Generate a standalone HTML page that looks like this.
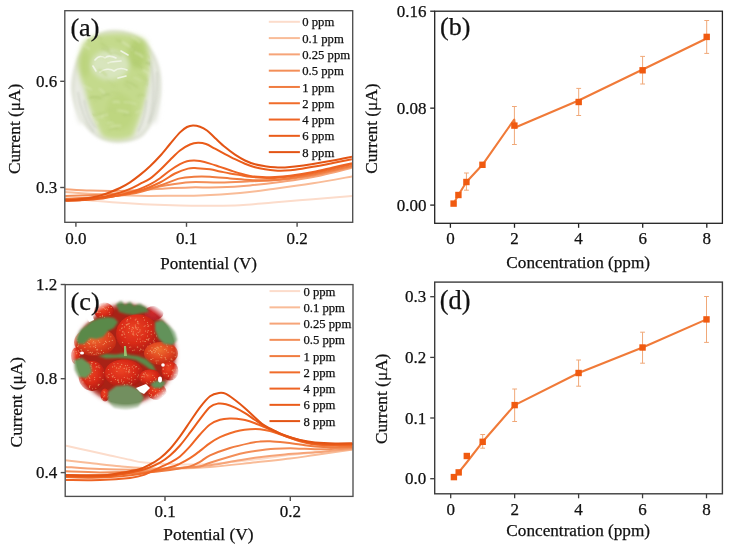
<!DOCTYPE html><html><head><meta charset="utf-8"><style>html,body{margin:0;padding:0;background:#fff;}svg{display:block;will-change:transform;}text{font-family:"Liberation Serif", serif;fill:#111;stroke:#111;stroke-width:0.25px;}</style></head><body>
<svg width="729" height="550" viewBox="0 0 729 550">
<defs>
<clipPath id="lettClip"><path d="M84,42 C94,32 128,29 145,40 C152,50 151,70 148,86 C145,104 139,122 133,136 C125,141 110,141 102,136 C94,120 88,104 84,90 C78,74 77,54 84,42 Z"/></clipPath>
<clipPath id="clipA"><rect x="65.3" y="11.3" width="286.6" height="210.3"/></clipPath>
<clipPath id="clipC"><rect x="65.8" y="285.3" width="286.6" height="210.3"/></clipPath>
<filter id="blurEdge" x="-20%" y="-20%" width="140%" height="140%"><feGaussianBlur stdDeviation="2.5"/></filter>
<filter id="blur2" x="-20%" y="-20%" width="140%" height="140%"><feGaussianBlur stdDeviation="2.2"/></filter>
<filter id="blur15" x="-20%" y="-20%" width="140%" height="140%"><feGaussianBlur stdDeviation="1.5"/></filter>
<filter id="blur25" x="-20%" y="-20%" width="140%" height="140%"><feGaussianBlur stdDeviation="2.6"/></filter>
<filter id="blur05" x="-20%" y="-20%" width="140%" height="140%"><feGaussianBlur stdDeviation="0.5"/></filter>
<filter id="blur06" x="-20%" y="-20%" width="140%" height="140%"><feGaussianBlur stdDeviation="0.55"/></filter>
<filter id="blur1" x="-20%" y="-20%" width="140%" height="140%"><feGaussianBlur stdDeviation="1.2"/></filter>
<radialGradient id="strawGrad" cx="125.6" cy="354" r="57" gradientUnits="userSpaceOnUse">
  <stop offset="0" stop-color="#fff" stop-opacity="1"/>
  <stop offset="0.87" stop-color="#fff" stop-opacity="1"/>
  <stop offset="1" stop-color="#fff" stop-opacity="0"/>
</radialGradient>
<radialGradient id="sRed" cx="0.42" cy="0.38" r="0.65">
  <stop offset="0" stop-color="#ec4424"/><stop offset="0.55" stop-color="#d82a18"/><stop offset="1" stop-color="#a81a10"/>
</radialGradient>
<radialGradient id="sOrange" cx="0.45" cy="0.35" r="0.65">
  <stop offset="0" stop-color="#ee7030"/><stop offset="0.55" stop-color="#e04420"/><stop offset="1" stop-color="#bc2614"/>
</radialGradient>
<radialGradient id="sDark" cx="0.45" cy="0.45" r="0.6">
  <stop offset="0" stop-color="#d02a2a"/><stop offset="1" stop-color="#b02028"/>
</radialGradient>
<filter id="blur08" x="-20%" y="-20%" width="140%" height="140%"><feGaussianBlur stdDeviation="0.8"/></filter>
<mask id="strawMask"><circle cx="125.6" cy="354" r="57" fill="url(#strawGrad)"/></mask>
</defs>
<rect width="729" height="550" fill="#fff"/>

<g filter="url(#blur15)">
  <path d="M112,30 C136,29 158,46 161,76 C163,98 157,122 143,136 C133,144 110,145 98,138 C82,128 72,108 71,88 C71,60 88,31 112,30 Z" fill="#dfe2d6"/>
  <path d="M112,33 C134,32 154,48 157,76 C159,98 154,120 141,133 C131,140 111,141 100,135 C85,126 75,108 75,88 C75,62 90,34 112,33 Z" fill="#e8eae2"/>
</g>
<g filter="url(#blur25)">
  <path d="M84,42 C94,32 128,29 145,40 C152,50 151,70 148,86 C145,104 139,122 133,136 C125,141 110,141 102,136 C94,120 88,104 84,90 C78,74 77,54 84,42 Z" fill="#c4da8c"/>
  <ellipse cx="137" cy="54" rx="9" ry="15" fill="#b6d074"/>
  <ellipse cx="120" cy="112" rx="14" ry="18" fill="#bed680"/>
  <ellipse cx="84" cy="64" rx="6" ry="14" fill="#bcd47e"/>
  <ellipse cx="110" cy="65" rx="19" ry="15" fill="#d8e5bd"/>
  <ellipse cx="154" cy="98" rx="5" ry="26" fill="#e6e8e0"/>
  <ellipse cx="81" cy="104" rx="5" ry="20" fill="#e8eae2"/>
</g>
<g fill="none" stroke="#f2f6ea" stroke-width="1.6" stroke-linecap="round" stroke-linejoin="round" filter="url(#blur05)" opacity="0.9">
  <path d="M95,60 C98,56 102,56 105,58 C108,55 112,56 116,58"/><path d="M100,72 C104,69 110,68 114,71 C118,68 123,68 127,70"/><path d="M108,63 C112,61 116,62 121,61"/><path d="M93,66 L96,71"/><path d="M121,51 L128,55"/><path d="M118,78 L126,76"/>
</g>
<g stroke="#c8ccbf" stroke-width="1.8" fill="none" opacity="0.6" filter="url(#blur1)">
  <path d="M150,60 C155,80 155,104 148,124"/><path d="M157,72 C158,92 156,108 150,122"/><path d="M146,100 C146,112 142,124 138,132"/><path d="M78,92 C80,108 86,122 94,132"/><path d="M84,100 C86,112 90,122 96,128"/>
</g>

<g clip-path="url(#lettClip)" fill="none" stroke-linecap="round" opacity="0.5" filter="url(#blur08)"><path d="M111.7,92.2 q4.0,-0.3 8.1,1.7" stroke="#bcd380" stroke-width="2.43"/><path d="M93.3,117.6 q4.6,-1.3 9.3,-0.1" stroke="#d8e7b2" stroke-width="1.51"/><path d="M101.2,43.4 q3.9,1.9 7.7,6.1" stroke="#b2ca74" stroke-width="2.11"/><path d="M107.7,81.1 q3.8,1.7 7.6,5.7" stroke="#bcd380" stroke-width="1.42"/><path d="M117.0,40.2 q3.0,0.2 6.1,2.8" stroke="#b2ca74" stroke-width="2.33"/><path d="M102.8,95.5 q3.3,-1.7 6.6,-1.0" stroke="#a8c26a" stroke-width="2.00"/><path d="M126.4,81.6 q5.4,1.5 10.7,5.3" stroke="#b2ca74" stroke-width="2.25"/><path d="M102.1,57.9 q2.5,0.0 4.9,2.5" stroke="#b2ca74" stroke-width="1.88"/><path d="M139.3,74.2 q4.1,2.5 8.1,7.3" stroke="#b2ca74" stroke-width="1.66"/><path d="M144.9,39.4 q4.4,1.2 8.7,4.8" stroke="#dfeabf" stroke-width="1.49"/><path d="M124.1,115.0 q2.8,-1.5 5.6,-0.6" stroke="#a8c26a" stroke-width="1.42"/><path d="M108.7,130.0 q4.9,-2.1 9.8,-1.8" stroke="#b2ca74" stroke-width="1.47"/><path d="M135.8,52.5 q3.4,1.0 6.8,4.4" stroke="#d8e7b2" stroke-width="2.58"/><path d="M133.9,77.6 q3.4,0.7 6.8,3.7" stroke="#d8e7b2" stroke-width="1.40"/><path d="M140.5,135.4 q6.0,-0.9 12.0,0.6" stroke="#b2ca74" stroke-width="1.65"/><path d="M107.6,122.9 q2.8,-1.0 5.7,0.4" stroke="#d8e7b2" stroke-width="1.66"/><path d="M98.1,114.4 q3.5,-1.5 7.0,-0.6" stroke="#b2ca74" stroke-width="1.49"/><path d="M94.6,100.2 q3.7,-2.1 7.4,-1.8" stroke="#bcd380" stroke-width="1.94"/><path d="M147.1,84.3 q4.6,1.8 9.3,6.1" stroke="#d8e7b2" stroke-width="2.15"/><path d="M101.8,57.8 q4.2,1.6 8.4,5.6" stroke="#d8e7b2" stroke-width="2.29"/><path d="M145.8,54.4 q4.2,2.5 8.3,7.5" stroke="#bcd380" stroke-width="1.49"/><path d="M83.3,45.3 q2.9,0.6 5.8,3.6" stroke="#dfeabf" stroke-width="1.71"/><path d="M137.7,96.0 q3.1,-1.5 6.2,-0.6" stroke="#b2ca74" stroke-width="1.55"/><path d="M113.6,102.0 q2.8,-1.0 5.5,0.3" stroke="#d8e7b2" stroke-width="2.50"/><path d="M94.3,35.7 q3.6,0.6 7.3,3.6" stroke="#b2ca74" stroke-width="1.46"/><path d="M99.7,89.2 q2.1,0.7 4.2,3.8" stroke="#d8e7b2" stroke-width="2.47"/><path d="M148.6,102.3 q4.5,-0.8 9.0,0.9" stroke="#d8e7b2" stroke-width="2.11"/><path d="M144.7,83.4 q3.2,0.5 6.3,3.4" stroke="#b2ca74" stroke-width="1.43"/><path d="M124.5,84.2 q2.9,1.0 5.8,4.3" stroke="#b2ca74" stroke-width="1.49"/><path d="M118.2,110.6 q5.0,-0.2 10.0,2.0" stroke="#d8e7b2" stroke-width="2.35"/><path d="M144.1,70.6 q4.6,2.1 9.2,6.6" stroke="#dfeabf" stroke-width="2.53"/><path d="M82.1,86.0 q4.5,0.5 9.0,3.4" stroke="#dfeabf" stroke-width="2.10"/><path d="M122.6,42.3 q4.9,2.2 9.8,6.8" stroke="#dfeabf" stroke-width="2.27"/><path d="M107.2,110.4 q4.0,-1.0 8.1,0.3" stroke="#bcd380" stroke-width="1.50"/><path d="M132.5,37.1 q3.5,1.1 6.9,4.7" stroke="#d8e7b2" stroke-width="2.55"/><path d="M87.9,115.1 q4.2,-0.9 8.4,0.7" stroke="#b2ca74" stroke-width="1.84"/><path d="M90.0,97.6 q5.1,-1.2 10.3,0.1" stroke="#a8c26a" stroke-width="2.19"/><path d="M110.9,126.7 q4.8,-1.6 9.6,-0.8" stroke="#d8e7b2" stroke-width="2.16"/><path d="M136.3,112.5 q3.2,-1.7 6.4,-1.0" stroke="#d8e7b2" stroke-width="2.10"/><path d="M102.2,48.2 q4.6,1.6 9.3,5.7" stroke="#b2ca74" stroke-width="2.25"/><path d="M146.5,62.8 q3.7,0.5 7.5,3.3" stroke="#a8c26a" stroke-width="2.51"/><path d="M138.2,73.8 q4.1,1.4 8.2,5.1" stroke="#bcd380" stroke-width="1.94"/><path d="M85.2,37.3 q2.0,0.5 4.0,3.4" stroke="#a8c26a" stroke-width="2.08"/><path d="M101.6,116.3 q2.9,-1.9 5.8,-1.4" stroke="#dfeabf" stroke-width="1.63"/><path d="M133.8,61.7 q4.2,2.0 8.3,6.5" stroke="#b2ca74" stroke-width="1.94"/><path d="M124.1,102.1 q5.8,-0.3 11.6,1.8" stroke="#d8e7b2" stroke-width="1.64"/><path d="M113.3,52.6 q3.9,0.2 7.8,2.9" stroke="#b2ca74" stroke-width="1.61"/><path d="M99.1,70.0 q3.5,1.3 7.0,5.1" stroke="#bcd380" stroke-width="2.60"/><path d="M91.1,122.3 q3.3,-0.9 6.5,0.7" stroke="#dfeabf" stroke-width="2.52"/><path d="M130.6,47.5 q4.0,1.2 8.1,4.8" stroke="#b2ca74" stroke-width="1.85"/></g>
<g clip-path="url(#clipA)" fill="none" stroke-width="2" stroke-linejoin="round" stroke-linecap="round">
<path d="M65.00,198.50 C69.17,198.82 80.83,199.68 90.00,200.40 C99.17,201.12 110.00,202.10 120.00,202.80 C130.00,203.50 140.00,204.13 150.00,204.60 C160.00,205.07 170.00,205.40 180.00,205.60 C190.00,205.80 200.00,205.85 210.00,205.80 C220.00,205.75 229.50,205.83 240.00,205.30 C250.50,204.77 260.83,203.62 273.00,202.60 C285.17,201.58 299.67,200.30 313.00,199.20 C326.33,198.10 346.33,196.53 353.00,196.00" stroke="#fcdccb"/>
<path d="M65.00,192.00 C70.83,192.38 89.17,193.70 100.00,194.30 C110.83,194.90 121.67,195.33 130.00,195.60 C138.33,195.87 142.50,195.87 150.00,195.90 C157.50,195.93 166.67,195.85 175.00,195.80 C183.33,195.75 189.17,196.07 200.00,195.60 C210.83,195.13 227.83,194.10 240.00,193.00 C252.17,191.90 260.83,190.62 273.00,189.00 C285.17,187.38 299.67,185.42 313.00,183.30 C326.33,181.18 346.33,177.47 353.00,176.30" stroke="#f9bc98"/>
<path d="M65.00,189.20 C69.17,189.43 81.67,190.30 90.00,190.60 C98.33,190.90 106.67,191.10 115.00,191.00 C123.33,190.90 131.67,190.43 140.00,190.00 C148.33,189.57 156.67,188.83 165.00,188.40 C173.33,187.97 180.83,187.58 190.00,187.40 C199.17,187.22 210.00,187.63 220.00,187.30 C230.00,186.97 240.00,186.28 250.00,185.40 C260.00,184.52 269.50,183.40 280.00,182.00 C290.50,180.60 300.83,179.42 313.00,177.00 C325.17,174.58 346.33,169.08 353.00,167.50" stroke="#f6a478"/>
<path d="M65.00,196.00 C70.83,195.80 87.50,195.72 100.00,194.80 C112.50,193.88 129.17,192.05 140.00,190.50 C150.83,188.95 156.67,186.88 165.00,185.50 C173.33,184.12 180.83,182.70 190.00,182.20 C199.17,181.70 210.00,182.65 220.00,182.50 C230.00,182.35 240.00,181.75 250.00,181.30 C260.00,180.85 269.50,180.77 280.00,179.80 C290.50,178.83 300.83,177.72 313.00,175.50 C325.17,173.28 346.33,168.00 353.00,166.50" stroke="#f38e58"/>
<path d="M65.00,198.80 C70.83,198.55 90.83,197.85 100.00,197.30 C109.17,196.75 113.33,196.38 120.00,195.50 C126.67,194.62 133.33,193.67 140.00,192.00 C146.67,190.33 153.33,187.77 160.00,185.50 C166.67,183.23 174.33,179.85 180.00,178.40 C185.67,176.95 189.00,177.07 194.00,176.80 C199.00,176.53 204.00,176.53 210.00,176.80 C216.00,177.07 223.33,177.87 230.00,178.40 C236.67,178.93 244.17,179.68 250.00,180.00 C255.83,180.32 260.00,180.38 265.00,180.30 C270.00,180.22 272.00,180.47 280.00,179.50 C288.00,178.53 300.83,176.83 313.00,174.50 C325.17,172.17 346.33,167.00 353.00,165.50" stroke="#f07c40"/>
<path d="M65.00,199.50 C68.33,199.42 79.17,199.25 85.00,199.00 C90.83,198.75 94.17,198.63 100.00,198.00 C105.83,197.37 113.33,196.40 120.00,195.20 C126.67,194.00 133.33,192.92 140.00,190.80 C146.67,188.68 154.17,185.38 160.00,182.50 C165.83,179.62 170.33,175.82 175.00,173.50 C179.67,171.18 184.33,169.48 188.00,168.60 C191.67,167.72 193.33,168.08 197.00,168.20 C200.67,168.32 206.17,168.77 210.00,169.30 C213.83,169.83 216.67,170.70 220.00,171.40 C223.33,172.10 226.67,172.88 230.00,173.50 C233.33,174.12 236.67,174.57 240.00,175.10 C243.33,175.63 246.33,176.27 250.00,176.70 C253.67,177.13 257.83,177.50 262.00,177.70 C266.17,177.90 270.33,178.08 275.00,177.90 C279.67,177.72 283.67,177.42 290.00,176.60 C296.33,175.78 305.83,174.35 313.00,173.00 C320.17,171.65 326.33,170.00 333.00,168.50 C339.67,167.00 349.67,164.75 353.00,164.00" stroke="#f06c2a"/>
<path d="M65.00,200.50 C68.33,200.42 79.17,200.28 85.00,200.00 C90.83,199.72 95.00,199.47 100.00,198.80 C105.00,198.13 110.00,197.07 115.00,196.00 C120.00,194.93 125.83,193.58 130.00,192.40 C134.17,191.22 136.67,190.23 140.00,188.90 C143.33,187.57 146.67,186.18 150.00,184.40 C153.33,182.62 156.67,180.52 160.00,178.20 C163.33,175.88 166.67,172.83 170.00,170.50 C173.33,168.17 177.17,165.75 180.00,164.20 C182.83,162.65 184.67,161.80 187.00,161.20 C189.33,160.60 191.83,160.62 194.00,160.60 C196.17,160.58 197.33,160.60 200.00,161.10 C202.67,161.60 206.67,162.63 210.00,163.60 C213.33,164.57 216.67,165.80 220.00,166.90 C223.33,168.00 226.67,169.10 230.00,170.20 C233.33,171.30 236.67,172.55 240.00,173.50 C243.33,174.45 246.33,175.32 250.00,175.90 C253.67,176.48 257.83,176.80 262.00,177.00 C266.17,177.20 270.33,177.30 275.00,177.10 C279.67,176.90 283.67,176.65 290.00,175.80 C296.33,174.95 305.83,173.38 313.00,172.00 C320.17,170.62 326.33,169.00 333.00,167.50 C339.67,166.00 349.67,163.75 353.00,163.00" stroke="#ee6424"/>
<path d="M65.00,200.80 C67.50,200.70 75.83,200.50 80.00,200.20 C84.17,199.90 86.67,199.45 90.00,199.00 C93.33,198.55 96.67,198.08 100.00,197.50 C103.33,196.92 106.67,196.32 110.00,195.50 C113.33,194.68 116.67,193.70 120.00,192.60 C123.33,191.50 126.67,190.35 130.00,188.90 C133.33,187.45 136.67,185.62 140.00,183.90 C143.33,182.18 146.67,180.92 150.00,178.60 C153.33,176.28 156.67,173.10 160.00,170.00 C163.33,166.90 166.67,163.25 170.00,160.00 C173.33,156.75 176.67,153.08 180.00,150.50 C183.33,147.92 187.00,145.78 190.00,144.50 C193.00,143.22 195.33,142.88 198.00,142.80 C200.67,142.72 203.17,143.02 206.00,144.00 C208.83,144.98 211.83,147.02 215.00,148.70 C218.17,150.38 221.67,152.35 225.00,154.10 C228.33,155.85 231.67,157.60 235.00,159.20 C238.33,160.80 241.67,162.37 245.00,163.70 C248.33,165.03 251.67,166.27 255.00,167.20 C258.33,168.13 261.67,168.75 265.00,169.30 C268.33,169.85 271.67,170.28 275.00,170.50 C278.33,170.72 281.67,170.72 285.00,170.60 C288.33,170.48 290.33,170.43 295.00,169.80 C299.67,169.17 306.67,167.93 313.00,166.80 C319.33,165.67 326.33,164.30 333.00,163.00 C339.67,161.70 349.67,159.67 353.00,159.00" stroke="#ea5c1a"/>
<path d="M65.00,200.30 C67.17,200.18 73.83,200.02 78.00,199.60 C82.17,199.18 86.33,198.47 90.00,197.80 C93.67,197.13 96.67,196.53 100.00,195.60 C103.33,194.67 106.67,193.47 110.00,192.20 C113.33,190.93 116.67,189.65 120.00,188.00 C123.33,186.35 126.67,184.48 130.00,182.30 C133.33,180.12 136.67,177.58 140.00,174.90 C143.33,172.22 146.67,169.35 150.00,166.20 C153.33,163.05 156.67,159.70 160.00,156.00 C163.33,152.30 166.67,147.93 170.00,144.00 C173.33,140.07 177.17,135.23 180.00,132.40 C182.83,129.57 184.83,128.17 187.00,127.00 C189.17,125.83 190.83,125.45 193.00,125.40 C195.17,125.35 197.67,125.85 200.00,126.70 C202.33,127.55 204.50,128.63 207.00,130.50 C209.50,132.37 212.00,135.13 215.00,137.90 C218.00,140.67 221.67,144.30 225.00,147.10 C228.33,149.90 231.67,152.47 235.00,154.70 C238.33,156.93 241.67,158.90 245.00,160.50 C248.33,162.10 251.67,163.35 255.00,164.30 C258.33,165.25 261.67,165.70 265.00,166.20 C268.33,166.70 271.67,167.10 275.00,167.30 C278.33,167.50 281.67,167.52 285.00,167.40 C288.33,167.28 290.33,167.17 295.00,166.60 C299.67,166.03 306.67,165.02 313.00,164.00 C319.33,162.98 326.33,161.75 333.00,160.50 C339.67,159.25 349.67,157.17 353.00,156.50" stroke="#e35414"/>
</g>
<rect x="64.80" y="10.70" width="287.90" height="211.60" fill="none" stroke="#4e4e4e" stroke-width="1.35"/>
<line x1="60.20" y1="81.30" x2="64.70" y2="81.30" stroke="#4e4e4e" stroke-width="1.40"/>
<text x="57.20" y="86.90" font-size="17.00" text-anchor="end">0.6</text>
<line x1="60.20" y1="187.50" x2="64.70" y2="187.50" stroke="#4e4e4e" stroke-width="1.40"/>
<text x="57.20" y="193.10" font-size="17.00" text-anchor="end">0.3</text>
<line x1="75.90" y1="222.30" x2="75.90" y2="226.80" stroke="#4e4e4e" stroke-width="1.40"/>
<text x="75.90" y="243.80" font-size="17.00" text-anchor="middle">0.0</text>
<line x1="186.50" y1="222.30" x2="186.50" y2="226.80" stroke="#4e4e4e" stroke-width="1.40"/>
<text x="186.50" y="243.80" font-size="17.00" text-anchor="middle">0.1</text>
<line x1="297.10" y1="222.30" x2="297.10" y2="226.80" stroke="#4e4e4e" stroke-width="1.40"/>
<text x="297.10" y="243.80" font-size="17.00" text-anchor="middle">0.2</text>
<text x="208.60" y="268.50" font-size="17.00" text-anchor="middle">Pontential (V)</text>
<text transform="translate(20.3,128.9) rotate(-90)" font-size="17.3" text-anchor="middle">Current (μA)</text>
<text x="70.40" y="35.60" font-size="26.20" text-anchor="start">(a)</text>
<line x1="268.80" y1="21.80" x2="299.90" y2="21.80" stroke="#fcdccb" stroke-width="2.00"/>
<text x="302.20" y="26.40" font-size="12.70" text-anchor="start">0 ppm</text>
<line x1="268.80" y1="38.09" x2="299.90" y2="38.09" stroke="#f9bc98" stroke-width="2.00"/>
<text x="302.20" y="42.69" font-size="12.70" text-anchor="start">0.1 ppm</text>
<line x1="268.80" y1="54.38" x2="299.90" y2="54.38" stroke="#f6a478" stroke-width="2.00"/>
<text x="302.20" y="58.98" font-size="12.70" text-anchor="start">0.25 ppm</text>
<line x1="268.80" y1="70.67" x2="299.90" y2="70.67" stroke="#f38e58" stroke-width="2.00"/>
<text x="302.20" y="75.27" font-size="12.70" text-anchor="start">0.5 ppm</text>
<line x1="268.80" y1="86.96" x2="299.90" y2="86.96" stroke="#f07c40" stroke-width="2.00"/>
<text x="302.20" y="91.56" font-size="12.70" text-anchor="start">1 ppm</text>
<line x1="268.80" y1="103.25" x2="299.90" y2="103.25" stroke="#f06c2a" stroke-width="2.00"/>
<text x="302.20" y="107.85" font-size="12.70" text-anchor="start">2 ppm</text>
<line x1="268.80" y1="119.54" x2="299.90" y2="119.54" stroke="#ee6424" stroke-width="2.00"/>
<text x="302.20" y="124.14" font-size="12.70" text-anchor="start">4 ppm</text>
<line x1="268.80" y1="135.83" x2="299.90" y2="135.83" stroke="#ea5c1a" stroke-width="2.00"/>
<text x="302.20" y="140.43" font-size="12.70" text-anchor="start">6 ppm</text>
<line x1="268.80" y1="152.12" x2="299.90" y2="152.12" stroke="#e35414" stroke-width="2.00"/>
<text x="302.20" y="156.72" font-size="12.70" text-anchor="start">8 ppm</text>
<rect x="434.70" y="11.20" width="287.70" height="212.10" fill="none" stroke="#222" stroke-width="1.30"/>
<line x1="430.20" y1="11.20" x2="434.70" y2="11.20" stroke="#222" stroke-width="1.30"/>
<text x="426.60" y="16.80" font-size="17.00" text-anchor="end">0.16</text>
<line x1="430.20" y1="108.15" x2="434.70" y2="108.15" stroke="#222" stroke-width="1.30"/>
<text x="426.60" y="113.75" font-size="17.00" text-anchor="end">0.08</text>
<line x1="430.20" y1="205.10" x2="434.70" y2="205.10" stroke="#222" stroke-width="1.30"/>
<text x="426.60" y="210.70" font-size="17.00" text-anchor="end">0.00</text>
<line x1="450.40" y1="223.30" x2="450.40" y2="227.80" stroke="#222" stroke-width="1.30"/>
<text x="450.40" y="243.70" font-size="17.00" text-anchor="middle">0</text>
<line x1="514.50" y1="223.30" x2="514.50" y2="227.80" stroke="#222" stroke-width="1.30"/>
<text x="514.50" y="243.70" font-size="17.00" text-anchor="middle">2</text>
<line x1="578.60" y1="223.30" x2="578.60" y2="227.80" stroke="#222" stroke-width="1.30"/>
<text x="578.60" y="243.70" font-size="17.00" text-anchor="middle">4</text>
<line x1="642.70" y1="223.30" x2="642.70" y2="227.80" stroke="#222" stroke-width="1.30"/>
<text x="642.70" y="243.70" font-size="17.00" text-anchor="middle">6</text>
<line x1="706.80" y1="223.30" x2="706.80" y2="227.80" stroke="#222" stroke-width="1.30"/>
<text x="706.80" y="243.70" font-size="17.00" text-anchor="middle">8</text>
<text x="578.20" y="268.20" font-size="17.20" text-anchor="middle">Concentration (ppm)</text>
<text transform="translate(377.0,128.6) rotate(-90)" font-size="17.3" text-anchor="middle">Current (μA)</text>
<text x="440.00" y="34.90" font-size="26.00" text-anchor="start">(b)</text>
<line x1="466.42" y1="173.00" x2="466.42" y2="190.20" stroke="#f0a878" stroke-width="1.00"/>
<line x1="464.02" y1="173.00" x2="468.82" y2="173.00" stroke="#f0a878" stroke-width="1.00"/>
<line x1="464.02" y1="190.20" x2="468.82" y2="190.20" stroke="#f0a878" stroke-width="1.00"/>
<line x1="514.40" y1="106.50" x2="514.40" y2="144.50" stroke="#f0a878" stroke-width="1.00"/>
<line x1="512.00" y1="106.50" x2="516.80" y2="106.50" stroke="#f0a878" stroke-width="1.00"/>
<line x1="512.00" y1="144.50" x2="516.80" y2="144.50" stroke="#f0a878" stroke-width="1.00"/>
<line x1="578.70" y1="88.40" x2="578.70" y2="115.50" stroke="#f0a878" stroke-width="1.00"/>
<line x1="576.30" y1="88.40" x2="581.10" y2="88.40" stroke="#f0a878" stroke-width="1.00"/>
<line x1="576.30" y1="115.50" x2="581.10" y2="115.50" stroke="#f0a878" stroke-width="1.00"/>
<line x1="642.60" y1="56.40" x2="642.60" y2="84.00" stroke="#f0a878" stroke-width="1.00"/>
<line x1="640.20" y1="56.40" x2="645.00" y2="56.40" stroke="#f0a878" stroke-width="1.00"/>
<line x1="640.20" y1="84.00" x2="645.00" y2="84.00" stroke="#f0a878" stroke-width="1.00"/>
<line x1="706.70" y1="20.50" x2="706.70" y2="53.40" stroke="#f0a878" stroke-width="1.00"/>
<line x1="704.30" y1="20.50" x2="709.10" y2="20.50" stroke="#f0a878" stroke-width="1.00"/>
<line x1="704.30" y1="53.40" x2="709.10" y2="53.40" stroke="#f0a878" stroke-width="1.00"/>
<polyline points="453.60,203.60 458.41,195.00 466.42,182.00 482.45,164.80 514.20,119.50 515.20,127.50 578.60,100.50 642.70,69.50 705.00,39.30" fill="none" stroke="#f07a38" stroke-width="2.1" stroke-linejoin="round"/>
<rect x="450.40" y="200.40" width="6.4" height="6.4" fill="#f05a10"/>
<rect x="455.21" y="191.80" width="6.4" height="6.4" fill="#f05a10"/>
<rect x="463.22" y="178.80" width="6.4" height="6.4" fill="#f05a10"/>
<rect x="479.25" y="161.60" width="6.4" height="6.4" fill="#f05a10"/>
<rect x="511.20" y="122.40" width="6.4" height="6.4" fill="#f05a10"/>
<rect x="575.50" y="98.80" width="6.4" height="6.4" fill="#f05a10"/>
<rect x="639.40" y="67.10" width="6.4" height="6.4" fill="#f05a10"/>
<rect x="703.50" y="33.70" width="6.4" height="6.4" fill="#f05a10"/>
<g mask="url(#strawMask)"><circle cx="126" cy="354" r="50" fill="#a82018" filter="url(#blur25)"/><g filter="url(#blur2)" fill="#fff"><ellipse cx="82" cy="314" rx="12" ry="9"/><ellipse cx="78" cy="400" rx="12" ry="10"/><ellipse cx="176" cy="398" rx="9" ry="9"/><ellipse cx="172" cy="314" rx="8" ry="8"/></g><g filter="url(#blur06)"><ellipse cx="104" cy="311" rx="10" ry="8.5" fill="url(#sRed)"/><g fill="#f7cc92" opacity="0.6"><circle cx="100.5" cy="305.1" r="0.55"/><circle cx="104.7" cy="308.7" r="0.55"/><circle cx="95.2" cy="311.1" r="0.55"/><circle cx="102.5" cy="316.6" r="0.55"/><circle cx="105.5" cy="309.2" r="0.55"/><circle cx="111.2" cy="307.4" r="0.55"/><circle cx="100.2" cy="316.4" r="0.55"/><circle cx="97.6" cy="312.4" r="0.55"/><circle cx="106.8" cy="308.8" r="0.55"/><circle cx="105.0" cy="303.6" r="0.55"/><circle cx="107.6" cy="309.8" r="0.55"/><circle cx="100.3" cy="312.5" r="0.55"/><circle cx="103.1" cy="307.6" r="0.55"/><circle cx="109.9" cy="314.4" r="0.55"/><circle cx="98.9" cy="312.3" r="0.55"/><circle cx="104.5" cy="317.4" r="0.55"/><circle cx="108.6" cy="307.4" r="0.55"/><circle cx="102.4" cy="315.4" r="0.55"/><circle cx="97.0" cy="310.8" r="0.55"/><circle cx="109.3" cy="312.2" r="0.55"/></g><ellipse cx="154" cy="313" rx="9.5" ry="7" fill="url(#sDark)"/><path d="M116,304 L121,300 L125,305 L130,301 L134,306 L140,303 L146,307 L149,312 L142,313 L134,315 L126,314 L119,312 Z" fill="#567f44" filter="url(#blur08)"/><ellipse cx="95" cy="342" rx="21" ry="14" fill="url(#sOrange)"/><g fill="#f7cc92" opacity="0.6"><circle cx="110.8" cy="336.8" r="0.55"/><circle cx="103.2" cy="344.6" r="0.55"/><circle cx="98.4" cy="340.8" r="0.55"/><circle cx="93.9" cy="346.6" r="0.55"/><circle cx="108.5" cy="336.0" r="0.55"/><circle cx="90.2" cy="346.7" r="0.55"/><circle cx="90.4" cy="352.4" r="0.55"/><circle cx="77.4" cy="340.6" r="0.55"/><circle cx="97.1" cy="352.7" r="0.55"/><circle cx="85.7" cy="339.6" r="0.55"/><circle cx="89.1" cy="352.8" r="0.55"/><circle cx="81.4" cy="334.5" r="0.55"/><circle cx="83.8" cy="341.6" r="0.55"/><circle cx="98.7" cy="335.4" r="0.55"/><circle cx="89.5" cy="343.9" r="0.55"/><circle cx="95.7" cy="345.3" r="0.55"/><circle cx="90.5" cy="339.2" r="0.55"/><circle cx="78.3" cy="345.8" r="0.55"/><circle cx="82.8" cy="332.5" r="0.55"/><circle cx="78.3" cy="338.2" r="0.55"/><circle cx="99.8" cy="332.2" r="0.55"/><circle cx="84.6" cy="337.7" r="0.55"/><circle cx="89.3" cy="331.4" r="0.55"/><circle cx="93.6" cy="341.5" r="0.55"/><circle cx="88.4" cy="335.4" r="0.55"/><circle cx="96.2" cy="332.1" r="0.55"/><circle cx="110.3" cy="347.5" r="0.55"/><circle cx="85.0" cy="338.3" r="0.55"/><circle cx="81.0" cy="349.6" r="0.55"/><circle cx="96.4" cy="349.8" r="0.55"/><circle cx="87.8" cy="334.2" r="0.55"/><circle cx="108.4" cy="348.7" r="0.55"/><circle cx="83.5" cy="342.5" r="0.55"/><circle cx="84.9" cy="347.4" r="0.55"/><circle cx="83.3" cy="334.4" r="0.55"/><circle cx="82.3" cy="333.7" r="0.55"/><circle cx="100.2" cy="353.2" r="0.55"/><circle cx="109.3" cy="341.4" r="0.55"/><circle cx="101.4" cy="350.4" r="0.55"/><circle cx="77.6" cy="346.5" r="0.55"/><circle cx="105.5" cy="341.4" r="0.55"/><circle cx="81.5" cy="350.1" r="0.55"/><circle cx="88.0" cy="350.4" r="0.55"/><circle cx="104.4" cy="332.8" r="0.55"/><circle cx="88.7" cy="343.4" r="0.55"/><circle cx="96.1" cy="354.1" r="0.55"/><circle cx="92.2" cy="352.4" r="0.55"/><circle cx="108.7" cy="333.9" r="0.55"/><circle cx="84.6" cy="336.2" r="0.55"/><circle cx="84.1" cy="344.4" r="0.55"/><circle cx="84.9" cy="339.7" r="0.55"/><circle cx="88.9" cy="340.8" r="0.55"/><circle cx="98.5" cy="353.3" r="0.55"/><circle cx="91.7" cy="353.7" r="0.55"/><circle cx="95.1" cy="342.9" r="0.55"/><circle cx="92.5" cy="333.1" r="0.55"/><circle cx="81.2" cy="341.3" r="0.55"/><circle cx="104.5" cy="343.6" r="0.55"/><circle cx="87.7" cy="342.5" r="0.55"/><circle cx="97.3" cy="350.0" r="0.55"/><circle cx="78.5" cy="343.7" r="0.55"/><circle cx="84.4" cy="335.8" r="0.55"/><circle cx="106.4" cy="342.2" r="0.55"/><circle cx="97.6" cy="349.3" r="0.55"/><circle cx="112.3" cy="340.4" r="0.55"/><circle cx="99.7" cy="342.2" r="0.55"/><circle cx="95.5" cy="347.4" r="0.55"/><circle cx="93.0" cy="342.9" r="0.55"/><circle cx="94.1" cy="354.4" r="0.55"/><circle cx="103.4" cy="352.5" r="0.55"/><circle cx="79.1" cy="340.4" r="0.55"/></g><ellipse cx="137.5" cy="334" rx="21.5" ry="19.5" fill="url(#sRed)"/><g fill="#f7cc92" opacity="0.6"><circle cx="122.6" cy="342.4" r="0.55"/><circle cx="144.4" cy="320.1" r="0.55"/><circle cx="133.1" cy="333.5" r="0.55"/><circle cx="122.9" cy="331.3" r="0.55"/><circle cx="138.2" cy="327.7" r="0.55"/><circle cx="124.4" cy="326.9" r="0.55"/><circle cx="139.8" cy="331.7" r="0.55"/><circle cx="142.8" cy="334.5" r="0.55"/><circle cx="127.6" cy="319.6" r="0.55"/><circle cx="134.2" cy="350.0" r="0.55"/><circle cx="151.2" cy="324.6" r="0.55"/><circle cx="140.5" cy="341.8" r="0.55"/><circle cx="145.6" cy="331.1" r="0.55"/><circle cx="143.3" cy="345.8" r="0.55"/><circle cx="135.5" cy="327.7" r="0.55"/><circle cx="139.8" cy="350.6" r="0.55"/><circle cx="127.5" cy="319.5" r="0.55"/><circle cx="138.7" cy="323.8" r="0.55"/><circle cx="129.4" cy="326.4" r="0.55"/><circle cx="148.7" cy="325.8" r="0.55"/><circle cx="137.5" cy="321.4" r="0.55"/><circle cx="147.5" cy="336.0" r="0.55"/><circle cx="124.1" cy="333.0" r="0.55"/><circle cx="151.2" cy="331.4" r="0.55"/><circle cx="137.3" cy="347.0" r="0.55"/><circle cx="132.9" cy="334.3" r="0.55"/><circle cx="130.7" cy="347.0" r="0.55"/><circle cx="146.4" cy="339.3" r="0.55"/><circle cx="133.4" cy="328.1" r="0.55"/><circle cx="127.0" cy="320.9" r="0.55"/><circle cx="153.4" cy="340.7" r="0.55"/><circle cx="128.1" cy="323.9" r="0.55"/><circle cx="128.6" cy="332.4" r="0.55"/><circle cx="122.8" cy="331.9" r="0.55"/><circle cx="129.3" cy="328.4" r="0.55"/><circle cx="136.4" cy="334.1" r="0.55"/><circle cx="124.6" cy="334.2" r="0.55"/><circle cx="119.9" cy="330.1" r="0.55"/><circle cx="129.1" cy="323.6" r="0.55"/><circle cx="141.2" cy="335.1" r="0.55"/><circle cx="148.3" cy="340.1" r="0.55"/><circle cx="146.8" cy="348.8" r="0.55"/><circle cx="132.7" cy="327.2" r="0.55"/><circle cx="147.1" cy="339.6" r="0.55"/><circle cx="154.4" cy="339.0" r="0.55"/><circle cx="147.6" cy="346.2" r="0.55"/><circle cx="122.0" cy="334.9" r="0.55"/><circle cx="137.7" cy="347.1" r="0.55"/><circle cx="150.6" cy="346.7" r="0.55"/><circle cx="141.1" cy="349.3" r="0.55"/><circle cx="145.4" cy="341.5" r="0.55"/><circle cx="121.7" cy="328.6" r="0.55"/><circle cx="140.0" cy="339.0" r="0.55"/><circle cx="142.9" cy="341.0" r="0.55"/><circle cx="150.3" cy="343.7" r="0.55"/><circle cx="137.6" cy="335.4" r="0.55"/><circle cx="147.7" cy="324.3" r="0.55"/><circle cx="147.4" cy="322.5" r="0.55"/><circle cx="137.2" cy="329.4" r="0.55"/><circle cx="136.6" cy="341.2" r="0.55"/><circle cx="149.0" cy="338.6" r="0.55"/><circle cx="143.6" cy="317.5" r="0.55"/><circle cx="122.3" cy="324.4" r="0.55"/><circle cx="148.0" cy="326.4" r="0.55"/><circle cx="144.9" cy="341.5" r="0.55"/><circle cx="145.1" cy="325.8" r="0.55"/><circle cx="138.2" cy="332.6" r="0.55"/><circle cx="136.1" cy="319.1" r="0.55"/><circle cx="135.3" cy="325.0" r="0.55"/><circle cx="125.1" cy="337.2" r="0.55"/><circle cx="122.1" cy="334.9" r="0.55"/><circle cx="151.3" cy="334.3" r="0.55"/><circle cx="154.1" cy="341.9" r="0.55"/><circle cx="135.4" cy="326.3" r="0.55"/><circle cx="122.1" cy="327.9" r="0.55"/><circle cx="129.6" cy="347.3" r="0.55"/><circle cx="132.0" cy="329.8" r="0.55"/><circle cx="131.5" cy="331.2" r="0.55"/><circle cx="126.7" cy="324.9" r="0.55"/><circle cx="138.0" cy="321.9" r="0.55"/><circle cx="143.1" cy="350.1" r="0.55"/><circle cx="156.5" cy="335.9" r="0.55"/><circle cx="147.5" cy="332.1" r="0.55"/><circle cx="148.4" cy="339.6" r="0.55"/><circle cx="136.3" cy="327.9" r="0.55"/><circle cx="128.8" cy="343.3" r="0.55"/><circle cx="144.2" cy="326.2" r="0.55"/><circle cx="140.0" cy="329.9" r="0.55"/><circle cx="137.4" cy="323.1" r="0.55"/><circle cx="135.3" cy="319.9" r="0.55"/><circle cx="130.7" cy="318.1" r="0.55"/><circle cx="126.3" cy="324.6" r="0.55"/><circle cx="140.5" cy="349.1" r="0.55"/><circle cx="148.2" cy="330.6" r="0.55"/><circle cx="133.8" cy="334.9" r="0.55"/><circle cx="132.2" cy="327.7" r="0.55"/><circle cx="137.6" cy="339.1" r="0.55"/><circle cx="127.7" cy="324.2" r="0.55"/><circle cx="133.2" cy="331.9" r="0.55"/><circle cx="154.5" cy="333.0" r="0.55"/><circle cx="132.8" cy="350.6" r="0.55"/></g><ellipse cx="161" cy="353.5" rx="17" ry="11.5" fill="url(#sOrange)"/><g fill="#f7cc92" opacity="0.6"><circle cx="161.8" cy="357.7" r="0.55"/><circle cx="166.0" cy="359.6" r="0.55"/><circle cx="159.5" cy="354.7" r="0.55"/><circle cx="165.9" cy="349.0" r="0.55"/><circle cx="165.6" cy="358.1" r="0.55"/><circle cx="161.8" cy="355.4" r="0.55"/><circle cx="157.2" cy="347.1" r="0.55"/><circle cx="154.3" cy="352.6" r="0.55"/><circle cx="174.0" cy="352.9" r="0.55"/><circle cx="152.0" cy="347.7" r="0.55"/><circle cx="160.9" cy="357.5" r="0.55"/><circle cx="158.3" cy="347.9" r="0.55"/><circle cx="155.5" cy="351.7" r="0.55"/><circle cx="167.2" cy="346.6" r="0.55"/><circle cx="171.1" cy="359.0" r="0.55"/><circle cx="161.2" cy="346.7" r="0.55"/><circle cx="171.9" cy="347.3" r="0.55"/><circle cx="151.5" cy="359.5" r="0.55"/><circle cx="160.9" cy="346.3" r="0.55"/><circle cx="151.6" cy="351.6" r="0.55"/><circle cx="149.0" cy="351.0" r="0.55"/><circle cx="166.6" cy="350.7" r="0.55"/><circle cx="156.7" cy="349.6" r="0.55"/><circle cx="153.5" cy="350.1" r="0.55"/><circle cx="156.1" cy="360.9" r="0.55"/><circle cx="171.9" cy="351.9" r="0.55"/><circle cx="156.7" cy="363.1" r="0.55"/><circle cx="150.6" cy="350.4" r="0.55"/><circle cx="158.0" cy="360.7" r="0.55"/><circle cx="155.5" cy="348.3" r="0.55"/><circle cx="152.9" cy="358.5" r="0.55"/><circle cx="154.8" cy="348.3" r="0.55"/><circle cx="175.2" cy="356.6" r="0.55"/><circle cx="152.0" cy="352.9" r="0.55"/><circle cx="157.1" cy="347.8" r="0.55"/><circle cx="158.6" cy="353.3" r="0.55"/><circle cx="171.3" cy="359.0" r="0.55"/><circle cx="172.0" cy="359.8" r="0.55"/><circle cx="164.6" cy="349.5" r="0.55"/><circle cx="154.9" cy="350.3" r="0.55"/><circle cx="150.7" cy="359.3" r="0.55"/><circle cx="147.3" cy="353.5" r="0.55"/><circle cx="168.1" cy="352.3" r="0.55"/><circle cx="152.0" cy="351.6" r="0.55"/><circle cx="165.1" cy="357.5" r="0.55"/><circle cx="169.4" cy="361.5" r="0.55"/><circle cx="166.6" cy="344.8" r="0.55"/></g><path d="M76,338 L80,330 L86,326 L92,321 L100,318 L108,317 L114,318 L118,322 L114,328 L108,331 L103,337 L96,339 L90,338 L84,344 L78,344 Z" fill="#5a894a" filter="url(#blur08)"/><path d="M88,316 L90,322 L92,321 L91,315 Z" fill="#a8c880"/><path d="M155,322 L162,320 L170,326 L176,332 L178,340 L172,345 L164,344 L158,338 L155,330 Z" fill="#62925a" filter="url(#blur08)"/><ellipse cx="76" cy="356" rx="5" ry="8.5" fill="url(#sRed)"/><g fill="#f7cc92" opacity="0.6"><circle cx="79.4" cy="352.5" r="0.55"/><circle cx="76.7" cy="353.8" r="0.55"/><circle cx="78.4" cy="350.9" r="0.55"/><circle cx="73.5" cy="351.7" r="0.55"/><circle cx="76.8" cy="353.0" r="0.55"/><circle cx="76.1" cy="351.4" r="0.55"/><circle cx="79.1" cy="358.6" r="0.55"/><circle cx="75.7" cy="361.4" r="0.55"/><circle cx="79.7" cy="355.1" r="0.55"/><circle cx="73.6" cy="360.7" r="0.55"/></g><path d="M98,356 L106,354 L116,354.5 L124,353 L130,355 L138,356 L146,359 L153,365 L156,371 L151,370 L144,365 L136,360 L128,358.5 L118,358 L106,358.5 Z" fill="#5b8948" filter="url(#blur08)"/><path d="M124,346 L126,346 L127,356 L124,356 Z" fill="#9cc070"/><ellipse cx="92" cy="376" rx="13.5" ry="15" fill="url(#sRed)"/><g fill="#f7cc92" opacity="0.6"><circle cx="94.6" cy="379.6" r="0.55"/><circle cx="84.4" cy="372.1" r="0.55"/><circle cx="85.4" cy="379.0" r="0.55"/><circle cx="96.1" cy="367.1" r="0.55"/><circle cx="96.8" cy="366.6" r="0.55"/><circle cx="86.9" cy="367.1" r="0.55"/><circle cx="100.0" cy="377.4" r="0.55"/><circle cx="89.2" cy="377.5" r="0.55"/><circle cx="95.8" cy="363.7" r="0.55"/><circle cx="82.9" cy="381.9" r="0.55"/><circle cx="89.6" cy="369.5" r="0.55"/><circle cx="86.9" cy="378.0" r="0.55"/><circle cx="88.1" cy="373.5" r="0.55"/><circle cx="88.3" cy="366.9" r="0.55"/><circle cx="98.2" cy="367.1" r="0.55"/><circle cx="89.9" cy="385.6" r="0.55"/><circle cx="89.5" cy="387.5" r="0.55"/><circle cx="90.9" cy="365.9" r="0.55"/><circle cx="95.8" cy="388.3" r="0.55"/><circle cx="80.9" cy="379.7" r="0.55"/><circle cx="88.5" cy="376.1" r="0.55"/><circle cx="82.4" cy="369.5" r="0.55"/><circle cx="92.6" cy="388.8" r="0.55"/><circle cx="81.4" cy="375.7" r="0.55"/><circle cx="91.5" cy="362.6" r="0.55"/><circle cx="103.5" cy="372.6" r="0.55"/><circle cx="102.9" cy="379.6" r="0.55"/><circle cx="99.7" cy="367.7" r="0.55"/><circle cx="89.4" cy="386.4" r="0.55"/><circle cx="84.4" cy="373.0" r="0.55"/><circle cx="92.5" cy="372.5" r="0.55"/><circle cx="94.7" cy="377.5" r="0.55"/><circle cx="95.4" cy="370.2" r="0.55"/><circle cx="89.8" cy="378.5" r="0.55"/><circle cx="90.0" cy="380.8" r="0.55"/><circle cx="90.6" cy="374.2" r="0.55"/><circle cx="91.7" cy="368.1" r="0.55"/><circle cx="99.1" cy="384.4" r="0.55"/><circle cx="90.9" cy="366.4" r="0.55"/><circle cx="91.3" cy="364.2" r="0.55"/><circle cx="82.0" cy="373.9" r="0.55"/><circle cx="81.0" cy="374.3" r="0.55"/><circle cx="95.7" cy="363.5" r="0.55"/><circle cx="98.3" cy="384.3" r="0.55"/><circle cx="92.3" cy="362.6" r="0.55"/><circle cx="92.1" cy="372.3" r="0.55"/><circle cx="98.3" cy="385.4" r="0.55"/><circle cx="98.9" cy="365.8" r="0.55"/></g><ellipse cx="124" cy="373.5" rx="19.5" ry="14" fill="url(#sRed)"/><g fill="#f7cc92" opacity="0.6"><circle cx="124.1" cy="385.3" r="0.55"/><circle cx="112.6" cy="366.9" r="0.55"/><circle cx="124.2" cy="368.4" r="0.55"/><circle cx="131.0" cy="384.6" r="0.55"/><circle cx="111.1" cy="381.5" r="0.55"/><circle cx="109.0" cy="374.4" r="0.55"/><circle cx="129.3" cy="369.6" r="0.55"/><circle cx="138.5" cy="375.0" r="0.55"/><circle cx="127.1" cy="384.2" r="0.55"/><circle cx="129.1" cy="370.5" r="0.55"/><circle cx="135.6" cy="366.9" r="0.55"/><circle cx="118.5" cy="380.9" r="0.55"/><circle cx="121.7" cy="364.4" r="0.55"/><circle cx="136.5" cy="366.6" r="0.55"/><circle cx="127.3" cy="378.1" r="0.55"/><circle cx="128.5" cy="371.6" r="0.55"/><circle cx="124.5" cy="384.6" r="0.55"/><circle cx="108.6" cy="369.5" r="0.55"/><circle cx="113.2" cy="375.8" r="0.55"/><circle cx="127.5" cy="365.2" r="0.55"/><circle cx="128.8" cy="372.8" r="0.55"/><circle cx="114.0" cy="363.7" r="0.55"/><circle cx="108.2" cy="377.4" r="0.55"/><circle cx="120.2" cy="366.9" r="0.55"/><circle cx="126.4" cy="369.3" r="0.55"/><circle cx="129.7" cy="371.9" r="0.55"/><circle cx="120.3" cy="366.2" r="0.55"/><circle cx="112.3" cy="376.5" r="0.55"/><circle cx="124.3" cy="377.5" r="0.55"/><circle cx="116.6" cy="367.9" r="0.55"/><circle cx="135.0" cy="379.5" r="0.55"/><circle cx="133.6" cy="372.5" r="0.55"/><circle cx="133.4" cy="372.2" r="0.55"/><circle cx="117.6" cy="380.5" r="0.55"/><circle cx="131.6" cy="383.2" r="0.55"/><circle cx="132.3" cy="366.9" r="0.55"/><circle cx="126.1" cy="371.7" r="0.55"/><circle cx="135.2" cy="374.2" r="0.55"/><circle cx="114.8" cy="377.5" r="0.55"/><circle cx="114.7" cy="366.1" r="0.55"/><circle cx="133.6" cy="368.7" r="0.55"/><circle cx="138.8" cy="368.7" r="0.55"/><circle cx="129.1" cy="378.9" r="0.55"/><circle cx="122.8" cy="383.0" r="0.55"/><circle cx="131.7" cy="383.5" r="0.55"/><circle cx="121.6" cy="379.8" r="0.55"/><circle cx="126.7" cy="368.1" r="0.55"/><circle cx="112.8" cy="376.9" r="0.55"/><circle cx="117.9" cy="363.5" r="0.55"/><circle cx="131.5" cy="377.2" r="0.55"/><circle cx="131.7" cy="380.1" r="0.55"/><circle cx="107.1" cy="376.0" r="0.55"/><circle cx="118.7" cy="382.4" r="0.55"/><circle cx="129.2" cy="382.6" r="0.55"/><circle cx="129.1" cy="367.5" r="0.55"/><circle cx="134.0" cy="365.2" r="0.55"/><circle cx="116.9" cy="371.4" r="0.55"/><circle cx="115.5" cy="379.5" r="0.55"/><circle cx="118.9" cy="368.5" r="0.55"/><circle cx="137.7" cy="376.8" r="0.55"/><circle cx="121.5" cy="381.1" r="0.55"/><circle cx="118.0" cy="379.2" r="0.55"/><circle cx="125.5" cy="365.6" r="0.55"/><circle cx="123.7" cy="381.8" r="0.55"/><circle cx="111.7" cy="373.3" r="0.55"/></g><ellipse cx="150" cy="377.5" rx="11" ry="8" fill="url(#sRed)"/><g fill="#f7cc92" opacity="0.6"><circle cx="146.6" cy="382.8" r="0.55"/><circle cx="145.2" cy="372.9" r="0.55"/><circle cx="154.4" cy="377.5" r="0.55"/><circle cx="141.4" cy="379.7" r="0.55"/><circle cx="154.3" cy="382.1" r="0.55"/><circle cx="152.8" cy="375.2" r="0.55"/><circle cx="147.8" cy="375.8" r="0.55"/><circle cx="143.5" cy="373.7" r="0.55"/><circle cx="158.8" cy="377.5" r="0.55"/><circle cx="147.3" cy="383.6" r="0.55"/><circle cx="144.1" cy="376.9" r="0.55"/><circle cx="150.7" cy="381.6" r="0.55"/><circle cx="155.6" cy="379.8" r="0.55"/><circle cx="146.7" cy="374.7" r="0.55"/><circle cx="153.6" cy="381.4" r="0.55"/><circle cx="142.7" cy="376.5" r="0.55"/><circle cx="156.0" cy="378.8" r="0.55"/><circle cx="141.8" cy="376.9" r="0.55"/><circle cx="143.2" cy="374.3" r="0.55"/><circle cx="154.5" cy="383.0" r="0.55"/><circle cx="144.4" cy="374.7" r="0.55"/></g><ellipse cx="170" cy="371" rx="8.5" ry="9.5" fill="url(#sRed)"/><g fill="#f7cc92" opacity="0.6"><circle cx="170.4" cy="364.6" r="0.55"/><circle cx="167.1" cy="365.1" r="0.55"/><circle cx="163.2" cy="368.8" r="0.55"/><circle cx="174.0" cy="369.8" r="0.55"/><circle cx="164.8" cy="373.6" r="0.55"/><circle cx="168.3" cy="376.5" r="0.55"/><circle cx="173.3" cy="371.0" r="0.55"/><circle cx="172.3" cy="370.3" r="0.55"/><circle cx="163.9" cy="373.0" r="0.55"/><circle cx="168.4" cy="375.6" r="0.55"/><circle cx="176.9" cy="369.7" r="0.55"/><circle cx="171.3" cy="375.7" r="0.55"/><circle cx="168.7" cy="365.8" r="0.55"/><circle cx="173.8" cy="378.2" r="0.55"/><circle cx="174.7" cy="374.8" r="0.55"/><circle cx="176.0" cy="374.4" r="0.55"/><circle cx="172.4" cy="370.1" r="0.55"/><circle cx="166.8" cy="373.4" r="0.55"/><circle cx="163.2" cy="369.5" r="0.55"/></g><ellipse cx="157" cy="392" rx="9.5" ry="8" fill="url(#sRed)"/><g fill="#f7cc92" opacity="0.6"><circle cx="162.4" cy="395.4" r="0.55"/><circle cx="159.5" cy="388.0" r="0.55"/><circle cx="155.5" cy="391.3" r="0.55"/><circle cx="159.3" cy="390.5" r="0.55"/><circle cx="151.0" cy="394.5" r="0.55"/><circle cx="162.3" cy="390.2" r="0.55"/><circle cx="150.6" cy="396.5" r="0.55"/><circle cx="165.4" cy="392.3" r="0.55"/><circle cx="149.4" cy="393.2" r="0.55"/><circle cx="157.8" cy="395.5" r="0.55"/><circle cx="157.2" cy="394.2" r="0.55"/><circle cx="163.3" cy="392.3" r="0.55"/><circle cx="151.5" cy="394.9" r="0.55"/><circle cx="155.0" cy="396.2" r="0.55"/><circle cx="152.7" cy="390.4" r="0.55"/><circle cx="155.5" cy="395.2" r="0.55"/><circle cx="154.2" cy="388.2" r="0.55"/><circle cx="151.8" cy="395.9" r="0.55"/></g><ellipse cx="105" cy="395" rx="4.5" ry="6.5" fill="url(#sRed)"/><g fill="#f7cc92" opacity="0.6"><circle cx="109.0" cy="395.4" r="0.55"/><circle cx="102.5" cy="398.9" r="0.55"/><circle cx="104.0" cy="391.3" r="0.55"/><circle cx="107.8" cy="396.7" r="0.55"/><circle cx="104.7" cy="395.8" r="0.55"/><circle cx="103.7" cy="396.8" r="0.55"/><circle cx="104.7" cy="392.3" r="0.55"/></g><path d="M74,360 L82,358 L90,364 L92,372 L86,378 L78,377 L74,370 Z" fill="#6a9658" filter="url(#blur08)"/><path d="M108,392 L116,386 L128,385 L140,390 L144,398 L138,408 L126,411 L114,409 L108,401 Z" fill="#728f5e" filter="url(#blur08)"/><path d="M150,384 L158,380 L166,382 L162,388 L154,388 Z" fill="#62925a" filter="url(#blur08)"/><path d="M86,316 L92,314 L94,320 L89,322 Z" fill="#fff"/><path d="M136,388 L146,384 L150,388 L144,394 L140,392 Z" fill="#fff"/><ellipse cx="160" cy="379.5" rx="2" ry="3" fill="#fff"/><ellipse cx="163" cy="365" rx="1.8" ry="1.8" fill="#fff"/><ellipse cx="82" cy="353" rx="2" ry="1.5" fill="#fff"/></g></g>
<g clip-path="url(#clipC)" fill="none" stroke-width="2" stroke-linejoin="round" stroke-linecap="round">
<path d="M65.00,445.50 C69.17,446.42 82.50,449.35 90.00,451.00 C97.50,452.65 103.33,453.93 110.00,455.40 C116.67,456.87 124.33,458.62 130.00,459.80 C135.67,460.98 135.67,461.72 144.00,462.50 C152.33,463.28 169.00,464.25 180.00,464.50 C191.00,464.75 198.33,464.75 210.00,464.00 C221.67,463.25 236.67,461.50 250.00,460.00 C263.33,458.50 279.17,456.25 290.00,455.00 C300.83,453.75 304.50,453.42 315.00,452.50 C325.50,451.58 346.67,450.00 353.00,449.50" stroke="#fcdccb"/>
<path d="M65.00,460.30 C69.17,460.75 80.83,462.00 90.00,463.00 C99.17,464.00 111.00,465.47 120.00,466.30 C129.00,467.13 134.00,467.63 144.00,468.00 C154.00,468.37 169.00,468.67 180.00,468.50 C191.00,468.33 198.33,467.92 210.00,467.00 C221.67,466.08 236.67,464.40 250.00,463.00 C263.33,461.60 279.17,459.93 290.00,458.60 C300.83,457.27 304.50,456.52 315.00,455.00 C325.50,453.48 346.67,450.42 353.00,449.50" stroke="#f9bc98"/>
<path d="M65.00,466.90 C70.83,467.27 86.83,468.65 100.00,469.10 C113.17,469.55 130.67,469.78 144.00,469.60 C157.33,469.42 169.00,468.73 180.00,468.00 C191.00,467.27 200.83,466.37 210.00,465.20 C219.17,464.03 227.50,462.23 235.00,461.00 C242.50,459.77 246.67,458.88 255.00,457.80 C263.33,456.72 275.00,455.42 285.00,454.50 C295.00,453.58 306.67,452.97 315.00,452.30 C323.33,451.63 328.67,451.05 335.00,450.50 C341.33,449.95 350.00,449.25 353.00,449.00" stroke="#f6a478"/>
<path d="M65.00,471.30 C70.83,471.48 86.83,472.40 100.00,472.40 C113.17,472.40 130.67,472.03 144.00,471.30 C157.33,470.57 170.67,468.82 180.00,468.00 C189.33,467.18 195.00,467.28 200.00,466.40 C205.00,465.52 203.33,464.82 210.00,462.70 C216.67,460.58 232.50,455.65 240.00,453.70 C247.50,451.75 249.17,451.82 255.00,451.00 C260.83,450.18 268.33,449.23 275.00,448.80 C281.67,448.37 288.33,448.32 295.00,448.40 C301.67,448.48 308.33,449.23 315.00,449.30 C321.67,449.37 328.67,449.02 335.00,448.80 C341.33,448.58 350.00,448.13 353.00,448.00" stroke="#f38e58"/>
<path d="M65.00,475.00 C70.83,475.00 87.50,475.33 100.00,475.00 C112.50,474.67 128.33,473.83 140.00,473.00 C151.67,472.17 161.67,471.10 170.00,470.00 C178.33,468.90 185.00,467.77 190.00,466.40 C195.00,465.03 196.67,463.63 200.00,461.80 C203.33,459.97 205.00,457.70 210.00,455.40 C215.00,453.10 223.33,450.05 230.00,448.00 C236.67,445.95 245.00,444.17 250.00,443.10 C255.00,442.03 256.67,441.90 260.00,441.60 C263.33,441.30 265.83,441.13 270.00,441.30 C274.17,441.47 280.00,442.07 285.00,442.60 C290.00,443.13 295.00,443.85 300.00,444.50 C305.00,445.15 309.17,446.05 315.00,446.50 C320.83,446.95 328.67,447.12 335.00,447.20 C341.33,447.28 350.00,447.03 353.00,447.00" stroke="#f07c40"/>
<path d="M65.00,477.00 C70.83,477.08 87.50,478.00 100.00,477.50 C112.50,477.00 128.33,475.70 140.00,474.00 C151.67,472.30 163.33,469.03 170.00,467.30 C176.67,465.57 176.67,465.12 180.00,463.60 C183.33,462.08 186.67,460.32 190.00,458.20 C193.33,456.08 196.67,453.42 200.00,450.90 C203.33,448.38 206.67,445.38 210.00,443.10 C213.33,440.82 216.67,438.83 220.00,437.20 C223.33,435.57 226.67,434.43 230.00,433.30 C233.33,432.17 236.67,431.08 240.00,430.40 C243.33,429.72 246.67,429.40 250.00,429.20 C253.33,429.00 256.67,428.90 260.00,429.20 C263.33,429.50 266.67,430.17 270.00,431.00 C273.33,431.83 276.67,433.07 280.00,434.20 C283.33,435.33 286.67,436.63 290.00,437.80 C293.33,438.97 295.83,440.07 300.00,441.20 C304.17,442.33 309.17,443.87 315.00,444.60 C320.83,445.33 328.67,445.45 335.00,445.60 C341.33,445.75 350.00,445.52 353.00,445.50" stroke="#f06c2a"/>
<path d="M65.00,480.00 C70.83,480.00 89.17,480.35 100.00,480.00 C110.83,479.65 122.67,478.75 130.00,477.90 C137.33,477.05 139.00,476.67 144.00,474.90 C149.00,473.13 155.67,469.33 160.00,467.30 C164.33,465.27 166.67,464.52 170.00,462.70 C173.33,460.88 176.67,459.12 180.00,456.40 C183.33,453.68 186.67,450.05 190.00,446.40 C193.33,442.75 196.67,438.15 200.00,434.50 C203.33,430.85 206.67,426.95 210.00,424.50 C213.33,422.05 216.67,420.80 220.00,419.80 C223.33,418.80 227.00,418.65 230.00,418.50 C233.00,418.35 235.50,418.65 238.00,418.90 C240.50,419.15 242.17,419.28 245.00,420.00 C247.83,420.72 251.67,421.98 255.00,423.20 C258.33,424.42 261.67,425.87 265.00,427.30 C268.33,428.73 271.67,430.35 275.00,431.80 C278.33,433.25 280.83,434.50 285.00,436.00 C289.17,437.50 295.00,439.47 300.00,440.80 C305.00,442.13 309.17,443.33 315.00,444.00 C320.83,444.67 328.67,444.70 335.00,444.80 C341.33,444.90 350.00,444.63 353.00,444.60" stroke="#ee6424"/>
<path d="M65.00,476.00 C70.83,476.08 90.83,476.75 100.00,476.50 C109.17,476.25 113.33,475.50 120.00,474.50 C126.67,473.50 135.00,471.70 140.00,470.50 C145.00,469.30 146.67,468.60 150.00,467.30 C153.33,466.00 156.67,464.67 160.00,462.70 C163.33,460.73 166.67,458.37 170.00,455.50 C173.33,452.63 176.67,449.30 180.00,445.50 C183.33,441.70 186.67,437.10 190.00,432.70 C193.33,428.30 196.67,423.38 200.00,419.10 C203.33,414.82 207.00,409.58 210.00,407.00 C213.00,404.42 215.33,404.07 218.00,403.60 C220.67,403.13 223.17,403.52 226.00,404.20 C228.83,404.88 231.83,406.20 235.00,407.70 C238.17,409.20 241.67,411.15 245.00,413.20 C248.33,415.25 251.67,417.80 255.00,420.00 C258.33,422.20 261.67,424.53 265.00,426.40 C268.33,428.27 271.67,429.68 275.00,431.20 C278.33,432.72 280.83,433.98 285.00,435.50 C289.17,437.02 295.00,439.00 300.00,440.30 C305.00,441.60 309.17,442.65 315.00,443.30 C320.83,443.95 328.67,444.08 335.00,444.20 C341.33,444.32 350.00,444.03 353.00,444.00" stroke="#ea5c1a"/>
<path d="M65.00,475.00 C70.83,475.08 90.83,475.83 100.00,475.50 C109.17,475.17 113.33,474.08 120.00,473.00 C126.67,471.92 135.00,470.42 140.00,469.00 C145.00,467.58 146.67,466.30 150.00,464.50 C153.33,462.70 156.67,460.78 160.00,458.20 C163.33,455.62 166.67,452.63 170.00,449.00 C173.33,445.37 176.67,440.93 180.00,436.40 C183.33,431.87 186.67,426.65 190.00,421.80 C193.33,416.95 196.67,411.57 200.00,407.30 C203.33,403.03 206.83,398.60 210.00,396.20 C213.17,393.80 216.33,393.30 219.00,392.90 C221.67,392.50 223.33,392.62 226.00,393.80 C228.67,394.98 231.83,397.60 235.00,400.00 C238.17,402.40 241.67,405.28 245.00,408.20 C248.33,411.12 252.17,414.90 255.00,417.50 C257.83,420.10 259.50,421.97 262.00,423.80 C264.50,425.63 267.00,426.88 270.00,428.50 C273.00,430.12 276.67,432.03 280.00,433.50 C283.33,434.97 286.67,436.22 290.00,437.30 C293.33,438.38 295.83,439.15 300.00,440.00 C304.17,440.85 309.17,441.83 315.00,442.40 C320.83,442.97 328.67,443.27 335.00,443.40 C341.33,443.53 350.00,443.23 353.00,443.20" stroke="#e35414"/>
</g>
<rect x="65.20" y="284.60" width="287.80" height="211.80" fill="none" stroke="#4e4e4e" stroke-width="1.35"/>
<line x1="60.70" y1="284.50" x2="65.20" y2="284.50" stroke="#4e4e4e" stroke-width="1.40"/>
<text x="57.20" y="290.10" font-size="17.00" text-anchor="end">1.2</text>
<line x1="60.70" y1="378.70" x2="65.20" y2="378.70" stroke="#4e4e4e" stroke-width="1.40"/>
<text x="57.20" y="384.30" font-size="17.00" text-anchor="end">0.8</text>
<line x1="60.70" y1="472.60" x2="65.20" y2="472.60" stroke="#4e4e4e" stroke-width="1.40"/>
<text x="57.20" y="478.20" font-size="17.00" text-anchor="end">0.4</text>
<line x1="165.00" y1="496.50" x2="165.00" y2="501.00" stroke="#4e4e4e" stroke-width="1.40"/>
<text x="165.00" y="517.00" font-size="17.00" text-anchor="middle">0.1</text>
<line x1="290.30" y1="496.50" x2="290.30" y2="501.00" stroke="#4e4e4e" stroke-width="1.40"/>
<text x="290.30" y="517.00" font-size="17.00" text-anchor="middle">0.2</text>
<text x="208.50" y="540.40" font-size="17.40" text-anchor="middle">Potential (V)</text>
<text transform="translate(22.1,402.2) rotate(-90)" font-size="17.3" text-anchor="middle">Current (μA)</text>
<text x="70.60" y="310.10" font-size="26.20" text-anchor="start">(c)</text>
<line x1="269.50" y1="291.10" x2="300.10" y2="291.10" stroke="#fcdccb" stroke-width="2.00"/>
<text x="303.40" y="295.70" font-size="12.70" text-anchor="start">0 ppm</text>
<line x1="269.50" y1="307.35" x2="300.10" y2="307.35" stroke="#f9bc98" stroke-width="2.00"/>
<text x="303.40" y="311.95" font-size="12.70" text-anchor="start">0.1 ppm</text>
<line x1="269.50" y1="323.60" x2="300.10" y2="323.60" stroke="#f6a478" stroke-width="2.00"/>
<text x="303.40" y="328.20" font-size="12.70" text-anchor="start">0.25 ppm</text>
<line x1="269.50" y1="339.85" x2="300.10" y2="339.85" stroke="#f38e58" stroke-width="2.00"/>
<text x="303.40" y="344.45" font-size="12.70" text-anchor="start">0.5 ppm</text>
<line x1="269.50" y1="356.10" x2="300.10" y2="356.10" stroke="#f07c40" stroke-width="2.00"/>
<text x="303.40" y="360.70" font-size="12.70" text-anchor="start">1 ppm</text>
<line x1="269.50" y1="372.35" x2="300.10" y2="372.35" stroke="#f06c2a" stroke-width="2.00"/>
<text x="303.40" y="376.95" font-size="12.70" text-anchor="start">2 ppm</text>
<line x1="269.50" y1="388.60" x2="300.10" y2="388.60" stroke="#ee6424" stroke-width="2.00"/>
<text x="303.40" y="393.20" font-size="12.70" text-anchor="start">4 ppm</text>
<line x1="269.50" y1="404.85" x2="300.10" y2="404.85" stroke="#ea5c1a" stroke-width="2.00"/>
<text x="303.40" y="409.45" font-size="12.70" text-anchor="start">6 ppm</text>
<line x1="269.50" y1="421.10" x2="300.10" y2="421.10" stroke="#e35414" stroke-width="2.00"/>
<text x="303.40" y="425.70" font-size="12.70" text-anchor="start">8 ppm</text>
<rect x="434.70" y="282.10" width="287.70" height="211.70" fill="none" stroke="#3c3c3c" stroke-width="1.40"/>
<line x1="430.20" y1="296.70" x2="434.70" y2="296.70" stroke="#3c3c3c" stroke-width="1.30"/>
<text x="426.20" y="302.30" font-size="17.00" text-anchor="end">0.3</text>
<line x1="430.20" y1="357.40" x2="434.70" y2="357.40" stroke="#3c3c3c" stroke-width="1.30"/>
<text x="426.20" y="363.00" font-size="17.00" text-anchor="end">0.2</text>
<line x1="430.20" y1="418.00" x2="434.70" y2="418.00" stroke="#3c3c3c" stroke-width="1.30"/>
<text x="426.20" y="423.60" font-size="17.00" text-anchor="end">0.1</text>
<line x1="430.20" y1="478.70" x2="434.70" y2="478.70" stroke="#3c3c3c" stroke-width="1.30"/>
<text x="426.20" y="484.30" font-size="17.00" text-anchor="end">0.0</text>
<line x1="450.70" y1="493.80" x2="450.70" y2="498.30" stroke="#3c3c3c" stroke-width="1.30"/>
<text x="450.70" y="514.80" font-size="17.00" text-anchor="middle">0</text>
<line x1="514.65" y1="493.80" x2="514.65" y2="498.30" stroke="#3c3c3c" stroke-width="1.30"/>
<text x="514.65" y="514.80" font-size="17.00" text-anchor="middle">2</text>
<line x1="578.60" y1="493.80" x2="578.60" y2="498.30" stroke="#3c3c3c" stroke-width="1.30"/>
<text x="578.60" y="514.80" font-size="17.00" text-anchor="middle">4</text>
<line x1="642.55" y1="493.80" x2="642.55" y2="498.30" stroke="#3c3c3c" stroke-width="1.30"/>
<text x="642.55" y="514.80" font-size="17.00" text-anchor="middle">6</text>
<line x1="706.50" y1="493.80" x2="706.50" y2="498.30" stroke="#3c3c3c" stroke-width="1.30"/>
<text x="706.50" y="514.80" font-size="17.00" text-anchor="middle">8</text>
<text x="578.20" y="536.00" font-size="17.20" text-anchor="middle">Concentration (ppm)</text>
<text transform="translate(387.1,398.8) rotate(-90)" font-size="17.3" text-anchor="middle">Current (μA)</text>
<text x="439.80" y="308.50" font-size="26.30" text-anchor="start">(d)</text>
<line x1="482.68" y1="434.50" x2="482.68" y2="448.20" stroke="#f0a878" stroke-width="1.00"/>
<line x1="480.28" y1="434.50" x2="485.07" y2="434.50" stroke="#f0a878" stroke-width="1.00"/>
<line x1="480.28" y1="448.20" x2="485.07" y2="448.20" stroke="#f0a878" stroke-width="1.00"/>
<line x1="514.65" y1="389.00" x2="514.65" y2="421.50" stroke="#f0a878" stroke-width="1.00"/>
<line x1="512.25" y1="389.00" x2="517.05" y2="389.00" stroke="#f0a878" stroke-width="1.00"/>
<line x1="512.25" y1="421.50" x2="517.05" y2="421.50" stroke="#f0a878" stroke-width="1.00"/>
<line x1="578.60" y1="360.00" x2="578.60" y2="386.20" stroke="#f0a878" stroke-width="1.00"/>
<line x1="576.20" y1="360.00" x2="581.00" y2="360.00" stroke="#f0a878" stroke-width="1.00"/>
<line x1="576.20" y1="386.20" x2="581.00" y2="386.20" stroke="#f0a878" stroke-width="1.00"/>
<line x1="642.55" y1="332.20" x2="642.55" y2="363.20" stroke="#f0a878" stroke-width="1.00"/>
<line x1="640.15" y1="332.20" x2="644.95" y2="332.20" stroke="#f0a878" stroke-width="1.00"/>
<line x1="640.15" y1="363.20" x2="644.95" y2="363.20" stroke="#f0a878" stroke-width="1.00"/>
<line x1="706.50" y1="296.50" x2="706.50" y2="342.40" stroke="#f0a878" stroke-width="1.00"/>
<line x1="704.10" y1="296.50" x2="708.90" y2="296.50" stroke="#f0a878" stroke-width="1.00"/>
<line x1="704.10" y1="342.40" x2="708.90" y2="342.40" stroke="#f0a878" stroke-width="1.00"/>
<polyline points="453.90,477.10 458.69,472.40 466.69,462.50 482.68,441.80 514.65,405.10 578.60,373.00 642.55,347.50 706.50,319.40" fill="none" stroke="#f07a38" stroke-width="2.1" stroke-linejoin="round"/>
<rect x="450.70" y="473.90" width="6.4" height="6.4" fill="#f05a10"/>
<rect x="455.49" y="469.20" width="6.4" height="6.4" fill="#f05a10"/>
<rect x="463.60" y="452.80" width="6.4" height="6.4" fill="#f05a10"/>
<rect x="479.48" y="438.60" width="6.4" height="6.4" fill="#f05a10"/>
<rect x="511.45" y="401.90" width="6.4" height="6.4" fill="#f05a10"/>
<rect x="575.40" y="369.80" width="6.4" height="6.4" fill="#f05a10"/>
<rect x="639.35" y="344.30" width="6.4" height="6.4" fill="#f05a10"/>
<rect x="703.30" y="316.20" width="6.4" height="6.4" fill="#f05a10"/>
</svg></body></html>
